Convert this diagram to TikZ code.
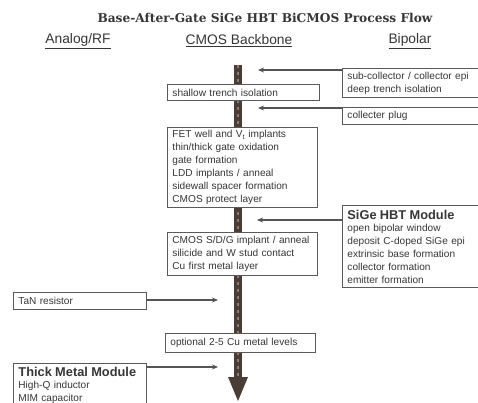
\documentclass[tikz,border=0pt]{standalone}
\usepackage{fontspec}
\setmainfont{Liberation Sans}
\newfontfamily\titlefont{DejaVu Serif}
\usetikzlibrary{arrows.meta}
\definecolor{inkc}{HTML}{363636}
\definecolor{boxc}{HTML}{5A5A5A}
\definecolor{barc}{HTML}{4A3D35}
\definecolor{barl}{HTML}{8C7B70}
\newcommand\modfnt{\fontsize{12.8}{14}\selectfont\bfseries}
\begin{document}
\begin{tikzpicture}[x=1pt,y=-1pt,
  box/.style={draw=boxc, line width=0.9pt, fill=white, inner xsep=5pt, inner ysep=0pt,
    align=left, anchor=north west, text=inkc,
    font=\fontsize{10.1}{13}\selectfont},
  arr/.style={draw=inkc!85, line width=1.3pt, -{Stealth[length=6pt,width=5pt]}},
  head/.style={text=inkc, font=\fontsize{13.8}{15}\selectfont}
]
\useasboundingbox (0,0) rectangle (478,403);
\fill[white] (0,0) rectangle (478,403);
\clip (0,0) rectangle (478,403);

% title and headings
\node[text=inkc, font=\titlefont\fontsize{12.2}{14}\selectfont\bfseries] (title) at (265,18) {Base-After-Gate SiGe HBT BiCMOS Process Flow};
\node[head] (hA) at (78,41) {\underline{Analog/RF}};
\node[head] (hC) at (239,41) {\underline{CMOS Backbone}};
\node[head] (hB) at (410,41) {\underline{Bipolar}};

% central backbone bar
\coordinate (bartop) at (238,65);
\coordinate (barbot) at (238,380);
\fill[barc] (234,65) rectangle (242,380);
\draw[barl, line width=1.6pt, dash pattern=on 3pt off 4pt] (bartop) -- (barbot);
\fill[barc] (228,377) -- (248,377) -- (238,401) -- cycle;

% CMOS backbone boxes
\node[box, text width=142pt, minimum height=16pt] (sti) at (167,84) {shallow trench isolation};
\node[box, text width=140pt, minimum height=80pt] (fet) at (167,127)
  {FET well and V\textsubscript{t} implants\\ thin/thick gate oxidation\\ gate formation\\ LDD implants / anneal\\ sidewall spacer formation\\ CMOS protect layer};
\node[box, text width=140pt, minimum height=43pt] (sdg) at (167,232)
  {CMOS S/D/G implant / anneal\\ silicide and W stud contact\\ Cu first metal layer};
\node[box, text width=140pt, minimum height=19pt] (opt) at (165,333) {optional 2-5 Cu metal levels};

% bipolar boxes
\node[box, text width=138pt, minimum height=29pt] (subc) at (342,68)
  {sub-collector / collector epi\\ deep trench isolation};
\node[box, text width=138pt, minimum height=17pt] (plug) at (342,107) {collecter plug};
\node[box, text width=138pt, minimum height=82pt] (sige) at (342,205)
  {{\modfnt SiGe HBT Module}\\[-1pt] open bipolar window\\ deposit C-doped SiGe epi\\ extrinsic base formation\\ collector formation\\ emitter formation};

% analog boxes
\node[box, text width=123pt, minimum height=17pt] (tan) at (13,292) {TaN resistor};
\node[box, text width=123pt, minimum height=43pt] (thick) at (13,363)
  {{\modfnt Thick Metal Module}\\[-1pt] High-Q inductor\\ MIM capacitor};

% connectors
\coordinate (e1) at (258,70);
\coordinate (e2) at (258,108);
\coordinate (e3) at (257,220);
\coordinate (e4) at (218,300);
\coordinate (e5) at (218,367);
\draw[arr] (subc.west |- e1) -- (e1);
\draw[arr] (plug.west |- e2) -- (e2);
\draw[arr] (sige.west |- e3) -- (e3);
\draw[arr] (tan.east |- e4) -- (e4);
\draw[arr] (thick.east |- e5) -- (e5);
\end{tikzpicture}
\end{document}
